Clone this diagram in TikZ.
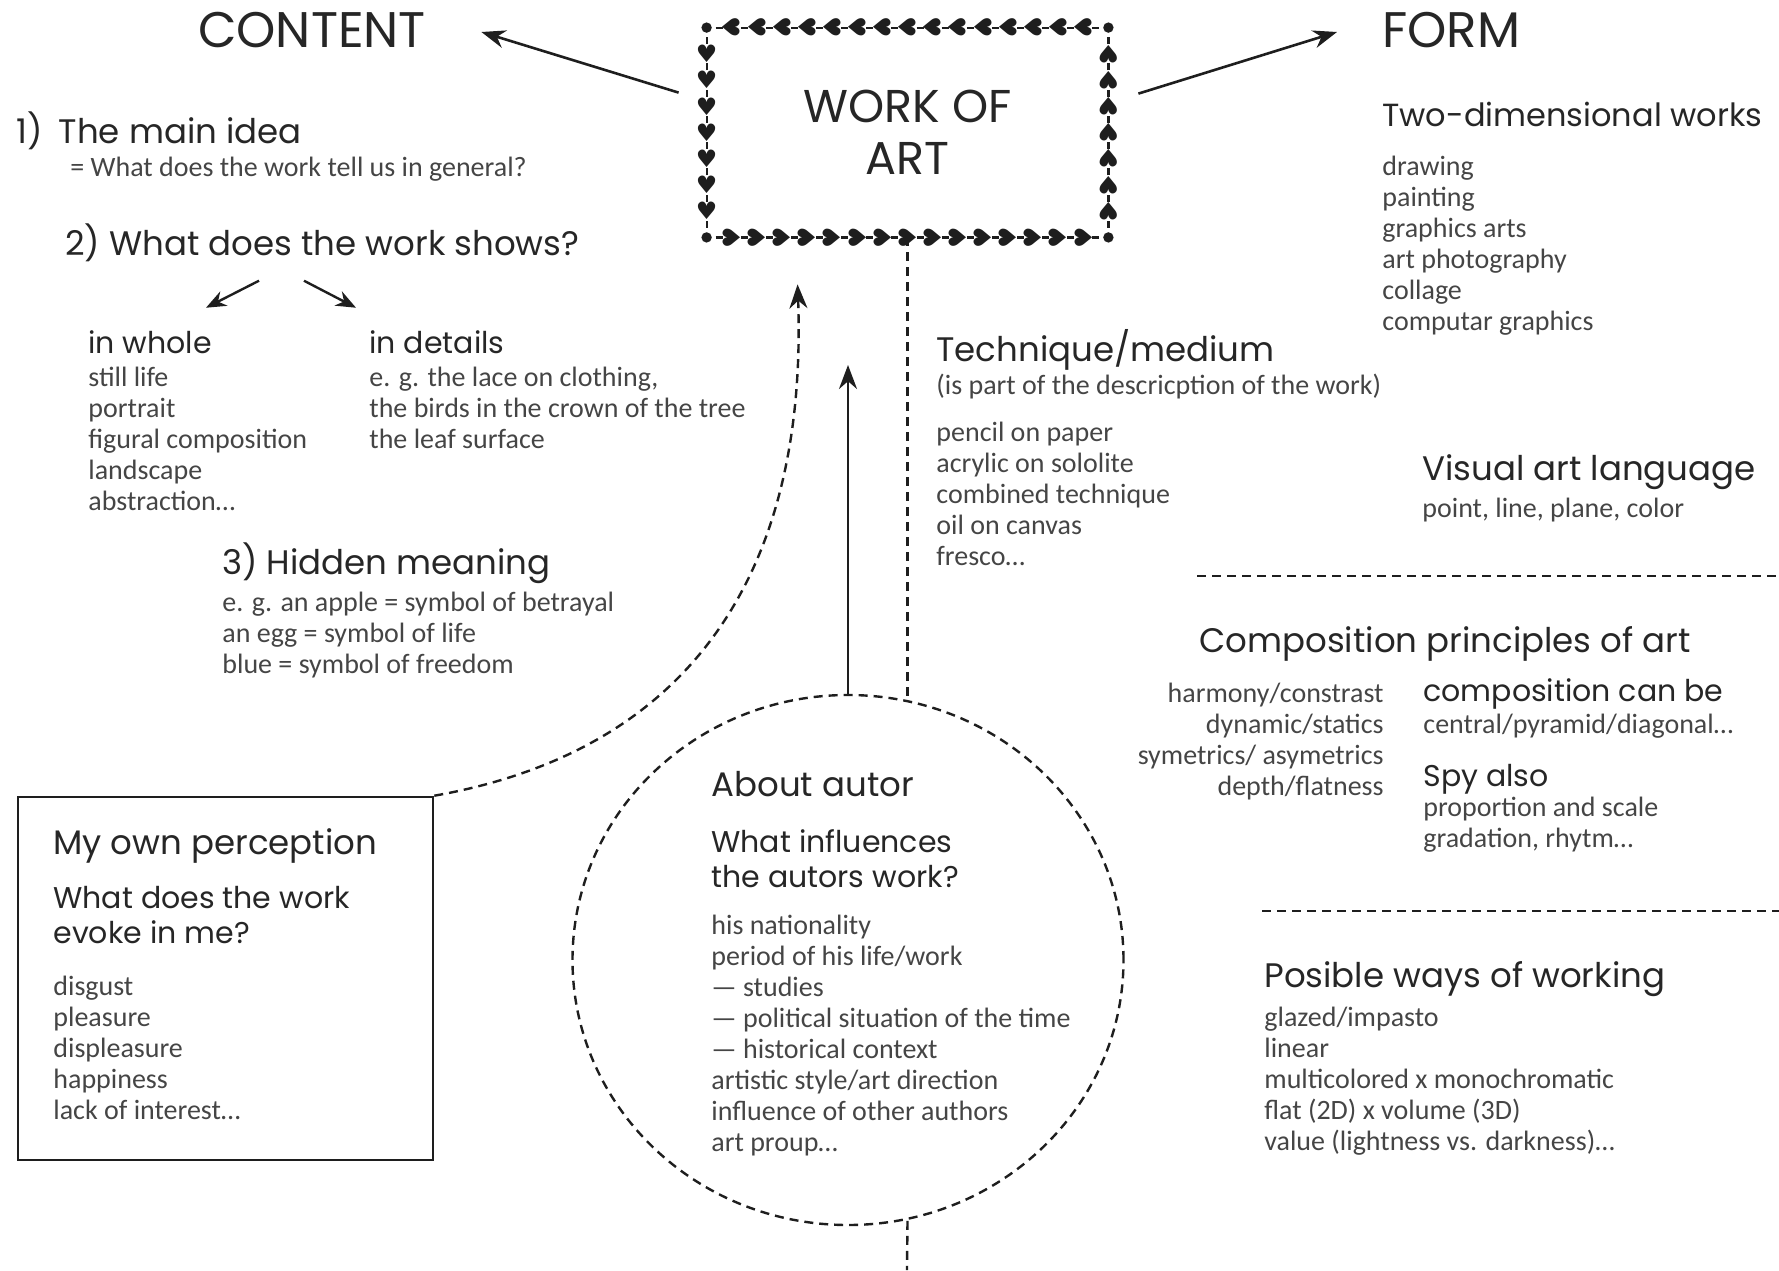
\documentclass[tikz,border=0pt]{standalone}
\usepackage{fontspec}
\setmainfont{Carlito}
\newfontfamily\headfont{Poppins}
\newfontfamily\heartfont{DejaVu Sans}
\usepackage{tikz}
\usetikzlibrary{shapes, arrows.meta, calc, positioning}

\definecolor{ink}{HTML}{1E1E1E}
\definecolor{headgray}{HTML}{262626}
\definecolor{bodygray}{HTML}{454545}

\tikzstyle{bigtitle} = [font=\headfont\fontsize{25}{29}\selectfont, text=headgray, inner sep=0pt]
\tikzstyle{head} = [font=\headfont\fontsize{17}{21}\selectfont, text=headgray, inner sep=0pt, anchor=base west, align=left]
\tikzstyle{subhead} = [font=\headfont\fontsize{15}{17.5}\selectfont, text=headgray, inner sep=0pt, anchor=base west, align=left]
\tikzstyle{list} = [font=\fontsize{14}{15.5}\selectfont, text=bodygray, inner sep=0pt, anchor=base west, align=left]
\tikzstyle{heart} = [inner sep=0pt, text=ink, font=\heartfont\fontsize{12}{12}\selectfont]
\tikzstyle{arrow} = [ink, line width=1.3pt, -{Stealth[length=12pt, width=9pt]}]
\tikzstyle{smallarrow} = [ink, line width=1.2pt, -{Stealth[length=10pt, width=8pt]}]
\tikzstyle{dashline} = [ink, line width=1.2pt, dash pattern=on 4.5pt off 3pt]
\tikzstyle{boxtick} = [ink, line width=1.1pt]

\begin{document}
\begin{tikzpicture}[x=0.5pt, y=0.5pt]
    \useasboundingbox (0,0) rectangle (1779,-1270);

    % centre
    \node (work) [minimum width=200.5pt, minimum height=104.5pt, inner sep=0pt, align=center,
        font=\headfont\fontsize{23}{26}\selectfont, text=headgray] at (907.5,-132.5) {WORK OF\\ART};
    \foreach \i in {1,...,15} {
        \node[heart, rotate=-90] at ($(work.north east)!\i/16!(work.north west)$) {♥};
        \node[heart, rotate=90] at ($(work.south west)!\i/16!(work.south east)$) {♥};
    }
    \foreach \i in {1,...,7} {
        \node[heart] at ($(work.north west)!\i/8!(work.south west)$) {♥};
        \node[heart, rotate=180] at ($(work.south east)!\i/8!(work.north east)$) {♥};
    }
    \foreach \i in {1,...,16} {
        \draw[boxtick] ($(work.north west)!{(\i-0.5)/16}!(work.north east)$) ++(-3.5,0) -- ++(7,0);
        \draw[boxtick] ($(work.south west)!{(\i-0.5)/16}!(work.south east)$) ++(-3.5,0) -- ++(7,0);
    }
    \foreach \i in {1,...,8} {
        \draw[boxtick] ($(work.north west)!{(\i-0.5)/8}!(work.south west)$) ++(0,-3.5) -- ++(0,7);
        \draw[boxtick] ($(work.north east)!{(\i-0.5)/8}!(work.south east)$) ++(0,-3.5) -- ++(0,7);
    }
    \foreach \c in {north west, north east, south west, south east}
        \fill[ink] (work.\c) circle (2.6pt);

    \node (content) [bigtitle] at (312,-30) {CONTENT};
    \node (form) [bigtitle, anchor=west] at (1382,-30) {FORM};
    \draw [arrow] ($(work.north west)+(-28,-65)$) -- ($(content.east)+(55,-2)$);
    \draw [arrow] ($(work.north east)+(30,-66)$) -- ($(form.west)+(-45,-2)$);

    % content side (multi-line nodes sit on the baseline of their last line)
    \node (mainidea) [head] at (16,-143) {1)\hspace{8pt}The main idea};
    \node (general) [list] at (70,-176) {= What does the work tell us in general?};
    \node (shows) [head] at (65,-255) {2) What does the work shows?};
    \node (whole) [subhead] at (88,-353) {in whole};
    \node (wholelist) [list] at (88,-510) {still life\\portrait\\figural composition\\landscape\\abstraction…};
    \node (details) [subhead] at (369,-353) {in details};
    \node (detailslist) [list] at (369,-448) {e. g. the lace on clothing,\\the birds in the crown of the tree\\the leaf surface};
    \draw [smallarrow] ($(shows.south west)+(194,-19)$) -- ($(shows.south west)+(141,-46)$);
    \draw [smallarrow] ($(shows.south west)+(239,-19)$) -- ($(shows.south west)+(291,-46)$);
    \node (hidden) [head] at (222,-574) {3) Hidden meaning};
    \node (hiddenlist) [list] at (222,-673) {e. g. an apple = symbol of betrayal\\an egg = symbol of life\\blue = symbol of freedom};

    % own perception
    \node (percept) [draw=ink, line width=1.3pt, minimum width=207.5pt, minimum height=181.5pt, inner sep=0pt] at (225.5,-978.5) {};
    \node (perceptHead) [head] at (53,-854) {My own perception};
    \node (perceptQ) [subhead] at (53,-943) {What does the work\\evoke in me?};
    \node (perceptList) [list] at (53,-1119) {disgust\\pleasure\\displeasure\\happiness\\lack of interest…};
    \draw [dashline, -{Stealth[length=12pt, width=9pt]}] (percept.north east) .. controls +(10:250) and +(-88:300) .. ($(work.south west)+(91,-47)$);

    % technique
    \node (technique) [head] at (936,-361) {Technique/medium};
    \node (techniqueNote) [list] at (936,-394) {(is part of the descricption of the work)};
    \node (techniqueList) [list] at (936,-565) {pencil on paper\\acrylic on sololite\\combined technique\\oil on canvas\\fresco…};

    % about autor
    \node (autor) [ellipse, draw=ink, dashline, minimum width=275.5pt, minimum height=265pt, inner sep=0pt] at (848,-960) {};
    \node (autorHead) [head] at (711,-796) {About autor};
    \node (autorQ) [subhead] at (711,-887) {What influences\\the autors work?};
    \node (autorList) [list] at (711,-1151) {his nationality\\period of his life/work\\— studies\\— political situation of the time\\— historical context\\artistic style/art direction\\influence of other authors\\art proup…};
    \coordinate (uptip) at (848,-365);
    \coordinate (bottomend) at (907,-1270);
    \draw [arrow] (autor.north) -- (autor.north |- uptip);
    \draw [dashline] (work.south) -- (work.south |- autor.78);
    \draw [dashline] (work.south |- autor.-78) -- (bottomend);

    % form side
    \node (twodim) [head, font=\headfont\fontsize{16}{20}\selectfont] at (1382,-126) {Two-dimensional works};
    \node (twodimList) [list] at (1382,-330) {drawing\\painting\\graphics arts\\art photography\\collage\\computar graphics};
    \node (visual) [head] at (1422,-480) {Visual art language};
    \node (visualList) [list] at (1422,-517) {point, line, plane, color};
    \draw [dashline] (1197,-576) -- (1779,-576);
    \node (composition) [head] at (1199,-652) {Composition principles of art};
    \node (principles) [list, anchor=base east, align=right] at (1384,-795) {harmony/constrast\\dynamic/statics\\symetrics/ asymetrics\\depth/flatness};
    \node (canbe) [subhead] at (1423,-701) {composition can be};
    \node (canbeList) [list] at (1423,-733) {central/pyramid/diagonal…};
    \node (spy) [subhead] at (1423,-786) {Spy also};
    \node (spyList) [list] at (1423,-847) {proportion and scale\\gradation, rhytm…};
    \draw [dashline] (1262,-911) -- (1779,-911);
    \node (ways) [head] at (1264,-987) {Posible ways of working};
    \node (waysList) [list] at (1264,-1150) {glazed/impasto\\linear\\multicolored x monochromatic\\flat (2D) x volume (3D)\\value (lightness vs. darkness)…};
\end{tikzpicture}
\end{document}
